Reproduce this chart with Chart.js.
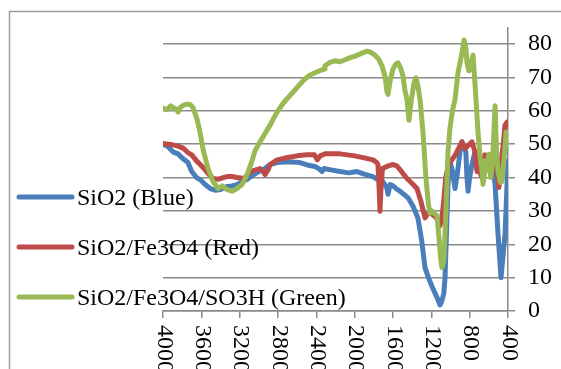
<!DOCTYPE html>
<html>
<head>
<meta charset="utf-8">
<title>FTIR spectra</title>
<script src="https://cdn.jsdelivr.net/npm/chart.js@4/dist/chart.umd.min.js"></script>
<style>
  html, body { margin: 0; padding: 0; background: #fff; }
  #wrap { width: 561px; height: 369px; position: relative; }
</style>
</head>
<body>
<div id="wrap"><canvas id="c" width="561" height="369"></canvas></div>
<script>
// Wavenumber axis ticks (cm-1), drawn high to low
const xTicks = [4000, 3600, 3200, 2800, 2400, 2000, 1600, 1200, 800, 400];
const yTicks = [0, 10, 20, 30, 40, 50, 60, 70, 80];

const seriesNames = ['SiO2 (Blue)', 'SiO2/Fe3O4 (Red)', 'SiO2/Fe3O4/SO3H (Green)'];

// SiO2
const sio2Wn = [4000, 3958, 3896, 3843, 3790, 3740, 3700, 3650, 3614, 3560, 3500, 3450, 3400, 3332, 3280, 3228, 3176, 3123, 3070, 3000, 2930, 2883, 2810, 2700, 2570, 2470, 2414, 2370, 2341, 2320, 2250, 2153, 2060, 1975, 1900, 1809, 1760, 1720, 1665, 1652, 1630, 1600, 1560, 1527, 1480, 1440, 1391, 1340, 1300, 1266, 1230, 1190, 1141, 1109, 1090, 1070, 1057, 1040, 1026, 1005, 980, 953, 935, 922, 900, 880, 860, 840, 828, 817, 800, 776, 745, 720, 700, 680, 660, 640, 620, 600, 580, 567, 535, 504, 473, 431, 410, 400];
const sio2T  = [50, 49.5, 47.7, 47.1, 45.6, 44.5, 41.8, 40, 39.4, 37.9, 36.6, 36.2, 36.4, 37.3, 37.5, 37.9, 38.8, 39.4, 40.6, 41.8, 42.8, 43.9, 44.5, 44.7, 44.5, 43.6, 43.3, 42.6, 41.8, 42.7, 42.3, 41.8, 41.4, 41.8, 41, 40.3, 39.4, 39.4, 37, 35, 37.9, 37.5, 36.5, 35.9, 34.8, 33.8, 31.4, 27.9, 21, 13, 10, 7.1, 4.1, 1.8, 3, 5.3, 10, 25, 37.9, 44.7, 42, 36.7, 40, 42.7, 48, 50.7, 49, 47.7, 40, 35.9, 40, 43.9, 47.7, 46, 45, 46.5, 44, 46.5, 44.5, 46, 45.5, 45.6, 37.9, 23, 10, 23, 37.9, 45];

// SiO2/Fe3O4
const feWn = [4000, 3950, 3900, 3850, 3790, 3740, 3700, 3650, 3614, 3560, 3530, 3478, 3420, 3370, 3332, 3280, 3228, 3150, 3090, 2988, 2960, 2936, 2900, 2883, 2810, 2700, 2600, 2500, 2420, 2390, 2360, 2310, 2200, 2153, 2000, 1900, 1809, 1770, 1757, 1745, 1736, 1725, 1710, 1650, 1600, 1560, 1527, 1490, 1454, 1400, 1350, 1310, 1266, 1230, 1190, 1150, 1110, 1090, 1070, 1050, 1020, 980, 950, 910, 880, 850, 820, 776, 745, 723, 700, 680, 660, 640, 620, 600, 580, 560, 535, 515, 495, 470, 450, 431, 410, 400];
const feT  = [50.2, 50, 49.8, 49.5, 48.8, 47.5, 46.8, 45, 44, 42.3, 41.2, 39.7, 39.5, 40, 40.3, 40.3, 40, 39.7, 41.8, 42.7, 42, 40.9, 42.5, 43.9, 45.3, 46, 46.5, 46.8, 46.8, 45.3, 46.5, 47.1, 47.1, 47.1, 46.5, 45.9, 45.3, 44.5, 43.9, 37, 29.9, 37, 42.7, 43.5, 43.9, 43.5, 42.4, 41, 39.7, 38.2, 36.7, 33, 27.9, 29.5, 29, 28, 25.5, 28, 33, 40, 44, 45.5, 46.8, 49, 50.7, 48.6, 49.5, 50.7, 47.7, 41.8, 43, 40.5, 45, 46.8, 44, 45.5, 45, 44, 44, 41.8, 37, 45, 50, 55.7, 56.6, 56];

// SiO2/Fe3O4/SO3H
const so3hWn = [4000, 3958, 3920, 3896, 3860, 3843, 3820, 3791, 3750, 3718, 3687, 3645, 3614, 3583, 3530, 3478, 3426, 3380, 3332, 3280, 3228, 3176, 3123, 3071, 3040, 2988, 2940, 2883, 2810, 2740, 2675, 2600, 2539, 2480, 2414, 2341, 2320, 2310, 2260, 2205, 2153, 2100, 2040, 1996, 1930, 1871, 1830, 1788, 1750, 1715, 1680, 1665, 1652, 1630, 1600, 1570, 1548, 1520, 1496, 1475, 1454, 1433, 1410, 1380, 1360, 1340, 1318, 1287, 1256, 1230, 1214, 1193, 1160, 1141, 1120, 1100, 1089, 1070, 1057, 1040, 1026, 1005, 980, 953, 922, 880, 859, 840, 828, 810, 797, 780, 765, 745, 713, 690, 671, 661, 650, 640, 620, 600, 580, 560, 545, 535, 520, 504, 480, 463, 440, 420, 410, 400];
const so3hT  = [60.7, 60.4, 61.5, 61, 60.5, 59.6, 61, 61.6, 62, 61.9, 61, 57.5, 53.6, 48.6, 42.7, 38.8, 36.7, 37.5, 36.4, 35.9, 36.7, 37.9, 40.9, 45, 48, 50.7, 53, 55.7, 59.6, 62.5, 64.6, 67, 69, 70.5, 71.4, 72.3, 72.5, 73.5, 74.5, 75, 74.7, 75.3, 76, 76.4, 77.2, 77.9, 77.5, 76.7, 75.5, 73.5, 70, 66, 64.9, 69, 72.5, 74, 74.4, 72.8, 70.5, 66, 63.4, 57.2, 63, 68.5, 69.9, 67.5, 63.4, 53.6, 39.7, 32, 29.3, 30, 29, 28.5, 22, 15, 13, 15, 23, 36, 47.7, 55, 60, 63.4, 71.4, 77.3, 81.2, 79, 74.4, 72, 72.3, 75, 76.7, 68.4, 53.6, 46, 41.8, 38, 40, 45, 42, 47, 40, 45, 55, 61.5, 48, 41.8, 38.5, 38.8, 46, 53.6, 53, 50];

const colors = ['#4a7ebb', '#be4b48', '#98b954'];
const FONT = '"Liberation Serif", "Times New Roman", serif';
const GRID = '#8a8a8a';

function toPoints(wn, t) {
  return wn.map((w, i) => ({ x: w, y: t[i] }));
}

// Frame around the whole chart
const framePlugin = {
  id: 'frame',
  beforeDraw(chart) {
    const ctx = chart.ctx;
    ctx.save();
    ctx.strokeStyle = '#9a9a9a';
    ctx.lineWidth = 1.5;
    ctx.beginPath();
    ctx.moveTo(9.5, 400);
    ctx.lineTo(9.5, 11.5);
    ctx.lineTo(600, 11.5);
    ctx.stroke();
    ctx.restore();
  }
};

// Vertical wavenumber labels reading top to bottom
const xLabelPlugin = {
  id: 'xLabels',
  afterDraw(chart) {
    const ctx = chart.ctx;
    const sx = chart.scales.x;
    ctx.save();
    ctx.font = '24px ' + FONT;
    ctx.fillStyle = '#000';
    ctx.textAlign = 'left';
    ctx.textBaseline = 'middle';
    xTicks.forEach(v => {
      const px = sx.getPixelForValue(v);
      ctx.save();
      ctx.translate(px + 1, chart.chartArea.bottom + 14);
      ctx.rotate(Math.PI / 2);
      ctx.fillText(String(v), 0, 0);
      ctx.restore();
    });
    ctx.restore();
  }
};

// Legend block on the left side
const legendPlugin = {
  id: 'sideLegend',
  afterDraw(chart) {
    const ctx = chart.ctx;
    ctx.save();
    ctx.font = '24px ' + FONT;
    ctx.textBaseline = 'alphabetic';
    ctx.textAlign = 'left';
    seriesNames.forEach((name, i) => {
      const y = 197 + i * 50;
      ctx.strokeStyle = colors[i];
      ctx.lineWidth = 5;
      ctx.lineCap = 'round';
      ctx.beginPath();
      ctx.moveTo(19, y);
      ctx.lineTo(72, y);
      ctx.stroke();
      ctx.fillStyle = '#000';
      ctx.fillText(name, 77, y + 8);
    });
    ctx.restore();
  }
};

const datasets = [
  { label: seriesNames[0], data: toPoints(sio2Wn, sio2T), borderColor: colors[0], order: 3 },
  { label: seriesNames[1], data: toPoints(feWn, feT), borderColor: colors[1], order: 2 },
  { label: seriesNames[2], data: toPoints(so3hWn, so3hT), borderColor: colors[2], order: 1 }
].map(d => Object.assign(d, {
  borderWidth: 5,
  pointRadius: 0,
  tension: 0,
  fill: false,
  borderJoinStyle: 'round',
  borderCapStyle: 'round'
}));

new Chart(document.getElementById('c'), {
  type: 'line',
  data: { datasets },
  options: {
    responsive: false,
    animation: false,
    devicePixelRatio: 1,
    layout: { padding: { left: 163, top: 24, right: 0, bottom: 0 } },
    plugins: { legend: { display: false }, tooltip: { enabled: false } },
    scales: {
      x: {
        type: 'linear',
        reverse: true,
        min: 400,
        max: 4000,
        ticks: { display: false, stepSize: 400 },
        grid: { drawOnChartArea: false, drawTicks: true, tickLength: 7, color: GRID, lineWidth: 1.5 },
        border: { display: true, color: GRID, width: 1.5 },
        afterBuildTicks(scale) { scale.ticks = xTicks.map(v => ({ value: v })); },
        afterFit(scale) { scale.height = 58; }
      },
      y: {
        position: 'right',
        min: 0,
        max: 85,
        ticks: {
          stepSize: 10,
          padding: 13,
          color: '#000',
          font: { family: FONT, size: 24 }
        },
        grid: { color: GRID, lineWidth: 1.5, tickLength: 7, drawTicks: true },
        border: { display: true, color: GRID, width: 1.5 },
        afterBuildTicks(scale) { scale.ticks = yTicks.map(v => ({ value: v })); },
        afterFit(scale) { scale.width = 53; }
      }
    }
  },
  plugins: [framePlugin, xLabelPlugin, legendPlugin]
});
</script>
</body>
</html>
